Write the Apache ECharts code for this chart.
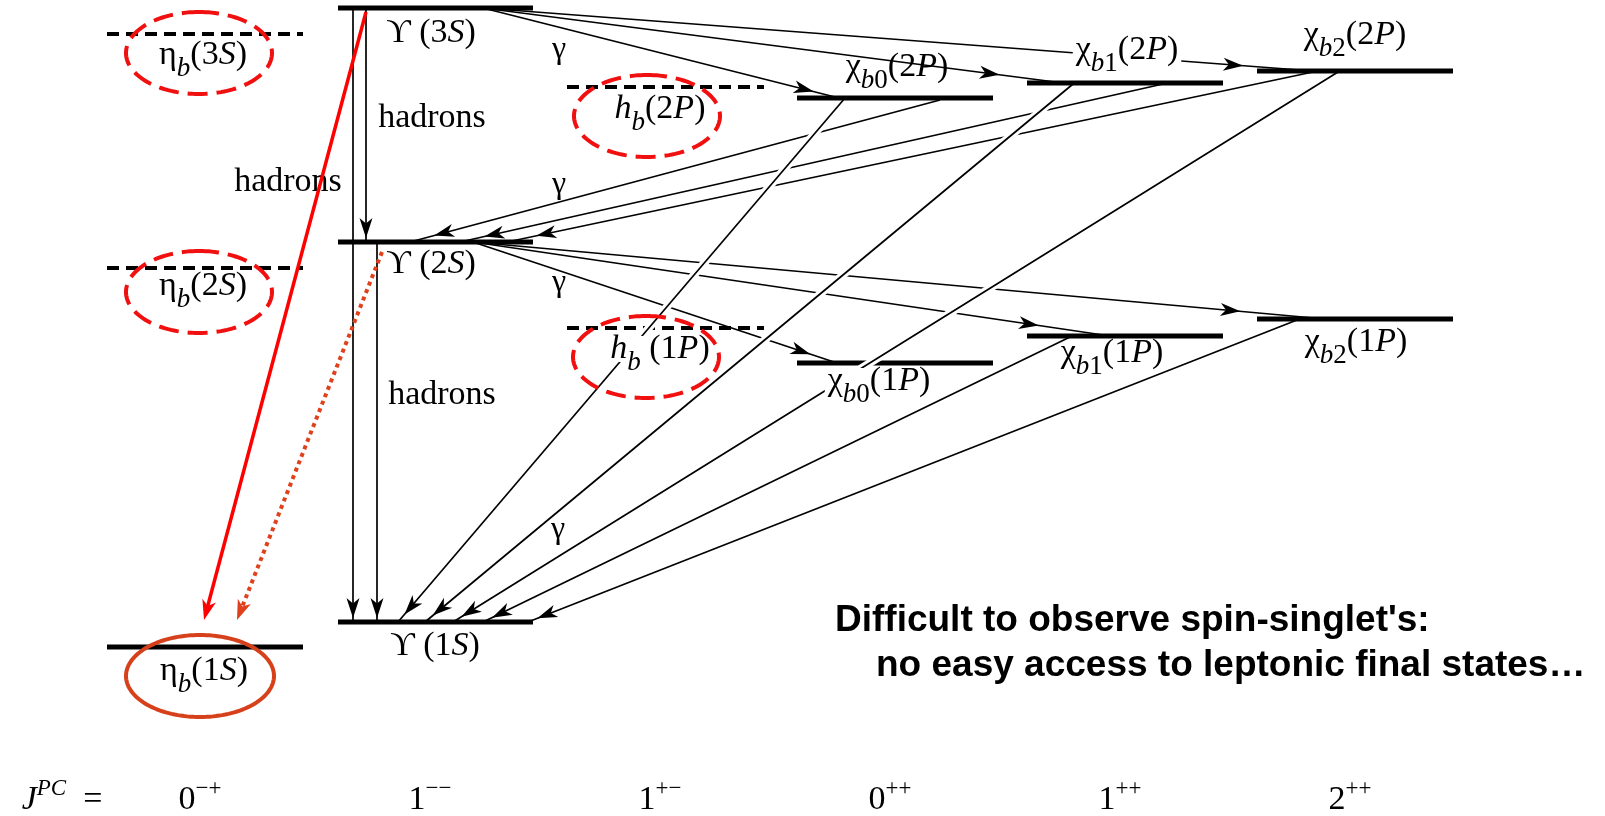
<!DOCTYPE html>
<html lang="en">
<head>
    <meta charset="UTF-8">
    <title>Bottomonium levels</title>
    <script src="https://cdn.jsdelivr.net/npm/echarts@6/dist/echarts.min.js"></script>
    <style>
        html, body { margin: 0; padding: 0; background: #fff; }
        #main { width: 1605px; height: 816px; }
    </style>
</head>
<body>
<div id="main"></div>
<script>
    // solid levels: [x1, x2, y]
    var levels = [
        [338, 533, 8],      // Υ(3S)
        [338, 533, 242],    // Υ(2S)
        [338, 533, 622],    // Υ(1S)
        [107, 303, 647],    // ηb(1S)
        [797, 993, 98],     // χb0(2P)
        [1027, 1223, 83],   // χb1(2P)
        [1257, 1453, 71],   // χb2(2P)
        [797, 993, 363],    // χb0(1P)
        [1027, 1223, 336],  // χb1(1P)
        [1257, 1453, 319]   // χb2(1P)
    ];
    // predicted (dashed) levels
    var dashedLevels = [
        [107, 303, 34],     // ηb(3S)
        [107, 303, 268],    // ηb(2S)
        [567, 764, 87],     // hb(2P)
        [567, 764, 328]     // hb(1P)
    ];
    // transitions drawn below: [x1, y1, x2, y2, head offset from end]
    var arrows = [
        [483, 8, 835, 97, 22],
        [483, 8, 1063, 83, 64],
        [483, 8, 1313, 71, 70],
        [353, 8, 353, 622, 4],
        [366, 8, 366, 242, 4],
        [377, 242, 377, 622, 4],
        [940, 100, 410, 242, 25],
        [1163, 84, 460, 242, 25],
        [1313, 72, 507, 242, 30],
        [473, 242, 837, 363, 28],
        [473, 242, 1110, 336, 72],
        [473, 242, 1325, 319, 85]
    ];
    // transitions to Υ(1S), drawn over the others
    var frontArrows = [
        [845, 98, 398, 622, 10],
        [1073, 84, 425, 622, 10],
        [1338, 72, 453, 622, 10],
        [1070, 337, 483, 622, 10],
        [1297, 320, 528, 622, 10]
    ];
    var redArrow = [[366, 12, 204, 620, 0]];
    var redDotted = [[382, 252, 237, 620, 0]];
    // ellipses: [cx, cy, rx, ry]
    var dashedRings = [[199, 53, 73, 41], [199, 292, 73, 41], [647, 116, 73, 41], [646, 357, 73, 41]];
    var solidRings = [[200, 676, 74, 41]];

    // labels: [x, y, text with {style|part} pieces]
    var stateLabels = [
        [431, 33, '{r|ϒ (3}{i|S}{r|)}'],
        [431, 264, '{r|ϒ (2}{i|S}{r|)}'],
        [435, 646, '{r|ϒ (1}{i|S}{r|)}'],
        [203, 55, '{r|η}{sb|b}{r|(3}{i|S}{r|)}'],
        [203, 286, '{r|η}{sb|b}{r|(2}{i|S}{r|)}'],
        [204, 671, '{r|η}{sb|b}{r|(1}{i|S}{r|)}'],
        [660, 109, '{i|h}{sb|b}{r|(2}{i|P}{r|)}'],
        [897, 67, '{r|χ}{sb|b}{sr|0}{r|(2}{i|P}{r|)}'],
        [1355, 35, '{r|χ}{sb|b}{sr|2}{r|(2}{i|P}{r|)}'],
        [1112, 353, '{r|χ}{sb|b}{sr|1}{r|(1}{i|P}{r|)}'],
        [1356, 342, '{r|χ}{sb|b}{sr|2}{r|(1}{i|P}{r|)}']
    ];
    // labels that hide the lines running through them
    var coverLabels = [
        [660, 349, '{i|h}{sb|b}{r| (1}{i|P}{r|)}'],
        [879, 381, '{r|χ}{sb|b}{sr|0}{r|(1}{i|P}{r|)}'],
        [1127, 50, '{r|χ}{sb|b}{sr|1}{r|(2}{i|P}{r|)}']
    ];
    var decayLabels = [
        [432, 118, '{r|hadrons}'],
        [288, 182, '{r|hadrons}'],
        [442, 395, '{r|hadrons}'],
        [559, 50, '{g|γ}'],
        [559, 185, '{g|γ}'],
        [559, 283, '{g|γ}'],
        [558, 530, '{g|γ}']
    ];
    var jpcLabels = [
        [62, 800, '{i|J}{spi|PC}{r|  =}'],
        [200, 800, '{r|0}{sp|−+}'],
        [430, 800, '{r|1}{sp|−−}'],
        [660, 800, '{r|1}{sp|+−}'],
        [890, 800, '{r|0}{sp|++}'],
        [1120, 800, '{r|1}{sp|++}'],
        [1350, 800, '{r|2}{sp|++}']
    ];
    var noteLines = [
        [835, 621, "{t|Difficult to observe spin-singlet's:}"],
        [876, 666, '{t|no easy access to leptonic final states…}']
    ];

    var serif = '"Liberation Serif", "DejaVu Serif", serif';
    var fonts = {
        r: { font: '34px ' + serif, dy: 0 },
        i: { font: 'italic 34px ' + serif, dy: 0 },
        sb: { font: 'italic 27px ' + serif, dy: 14 },
        sr: { font: '27px ' + serif, dy: 14 },
        sp: { font: '23px ' + serif, dy: -11 },
        spi: { font: 'italic 23px ' + serif, dy: -11 },
        g: { font: '32px ' + serif, dy: 0 },
        t: { font: 'bold 37px "Liberation Sans", Arial, sans-serif', dy: 0 }
    };

    var measureCtx = document.createElement('canvas').getContext('2d');
    function textWidth(s, font) {
        measureCtx.font = font;
        return measureCtx.measureText(s).width;
    }
    function parseParts(str) {
        var out = [], re = /\{(\w+)\|([^}]*)\}/g, m;
        while ((m = re.exec(str))) out.push({ k: m[1], t: m[2] });
        return out;
    }

    var myChart = echarts.init(document.getElementById('main'));

    function labelRender(list, opt) {
        return function (params, api) {
            var item = list[params.dataIndex];
            var p = api.coord([api.value(0), api.value(1)]);
            var parts = parseParts(item[2]);
            var total = 0;
            parts.forEach(function (s) { s.w = textWidth(s.t, fonts[s.k].font); total += s.w; });
            var x = opt.align === 'left' ? p[0] : p[0] - total / 2;
            var kids = [];
            if (opt.cover) {
                kids.push({
                    type: 'rect',
                    shape: { x: x - 3, y: p[1] - 13, width: total + 6, height: 26 },
                    style: { fill: '#fff' }
                });
            }
            parts.forEach(function (s) {
                kids.push({
                    type: 'text',
                    x: x,
                    y: p[1] + fonts[s.k].dy,
                    style: {
                        text: s.t, font: fonts[s.k].font, fill: '#000',
                        align: 'left', verticalAlign: 'middle'
                    }
                });
                x += s.w;
            });
            return { type: 'group', children: kids };
        };
    }

    function labelSeries(list, opt, z) {
        return {
            type: 'custom', z: z, clip: false, silent: true,
            renderItem: labelRender(list, opt),
            data: list.map(function (l) { return [l[0], l[1]]; })
        };
    }

    function arrowRender(opt) {
        return function (params, api) {
            var a = api.coord([api.value(0), api.value(1)]);
            var b = api.coord([api.value(2), api.value(3)]);
            var back = api.value(4);
            var dx = b[0] - a[0], dy = b[1] - a[1];
            var len = Math.sqrt(dx * dx + dy * dy);
            var ux = dx / len, uy = dy / len;
            var tip = [b[0] - ux * back, b[1] - uy * back];
            var L = opt.headLen, W = opt.headW;
            var head = [
                tip,
                [tip[0] - ux * L - uy * W, tip[1] - uy * L + ux * W],
                [tip[0] - ux * L * 0.72, tip[1] - uy * L * 0.72],
                [tip[0] - ux * L + uy * W, tip[1] - uy * L - ux * W]
            ];
            var end = opt.stopAtHead ? [tip[0] - ux * L * 0.7, tip[1] - uy * L * 0.7] : b;
            var kids = [];
            if (opt.halo) {
                kids.push({
                    type: 'line',
                    shape: { x1: a[0] + ux * 16, y1: a[1] + uy * 16, x2: b[0] - ux * 42, y2: b[1] - uy * 42 },
                    style: { stroke: '#fff', lineWidth: 8 }
                });
            }
            kids.push({
                type: 'line',
                shape: { x1: a[0], y1: a[1], x2: end[0], y2: end[1] },
                style: { stroke: opt.color, lineWidth: opt.width, lineDash: opt.dash || null }
            });
            kids.push({ type: 'polygon', shape: { points: head }, style: { fill: opt.color } });
            return { type: 'group', children: kids };
        };
    }

    function levelRender(width, dash) {
        return function (params, api) {
            var a = api.coord([api.value(0), api.value(2)]);
            var b = api.coord([api.value(1), api.value(2)]);
            return {
                type: 'line',
                shape: { x1: a[0], y1: a[1], x2: b[0], y2: b[1] },
                style: { stroke: '#000', lineWidth: width, lineDash: dash || null }
            };
        };
    }

    function ringRender(color, dash) {
        return function (params, api) {
            var c = api.coord([api.value(0), api.value(1)]);
            var s = api.size([api.value(2), api.value(3)]);
            var rx = Math.abs(s[0]), ry = Math.abs(s[1]);
            var pts = [];
            for (var k = 0; k < 144; k++) {
                var t = -Math.PI / 2 + k / 144 * Math.PI * 2;
                pts.push([c[0] + rx * Math.cos(t), c[1] + ry * Math.sin(t)]);
            }
            return {
                type: 'polygon',
                shape: { points: pts },
                style: { fill: 'transparent', stroke: color, lineWidth: 4, lineDash: dash || null }
            };
        };
    }

    var black = { color: '#000', width: 1.7, headLen: 20, headW: 6.5 };

    option = {
        animation: false,
        backgroundColor: '#fff',
        grid: { left: 0, right: 0, top: 0, bottom: 0 },
        xAxis: { type: 'value', min: 0, max: 1605, show: false },
        yAxis: { type: 'value', min: 0, max: 816, inverse: true, show: false },
        series: [
            { type: 'custom', z: 2, clip: false, silent: true, renderItem: arrowRender(black), data: arrows },
            { type: 'custom', z: 3, clip: false, silent: true, renderItem: levelRender(5), data: levels },
            { type: 'custom', z: 3, clip: false, silent: true, renderItem: levelRender(4, [12, 7]), data: dashedLevels },
            {
                type: 'custom', z: 4, clip: false, silent: true,
                renderItem: arrowRender({ color: '#000', width: 1.7, headLen: 20, headW: 6.5, halo: true }),
                data: frontArrows
            },
            labelSeries(stateLabels.concat(decayLabels, jpcLabels), {}, 5),
            labelSeries(coverLabels, { cover: true }, 5),
            labelSeries(noteLines, { align: 'left' }, 5),
            { type: 'custom', z: 6, clip: false, silent: true, renderItem: ringRender('#f01010', [20, 9]), data: dashedRings },
            { type: 'custom', z: 6, clip: false, silent: true, renderItem: ringRender('#d6411c'), data: solidRings },
            {
                type: 'custom', z: 7, clip: false, silent: true,
                renderItem: arrowRender({ color: '#ff0000', width: 3.5, headLen: 20, headW: 7, stopAtHead: true }),
                data: redArrow
            },
            {
                type: 'custom', z: 7, clip: false, silent: true,
                renderItem: arrowRender({ color: '#e0401c', width: 4, headLen: 20, headW: 7, dash: [4, 4], stopAtHead: true }),
                data: redDotted
            }
        ]
    };

    myChart.setOption(option);
</script>
</body>
</html>
